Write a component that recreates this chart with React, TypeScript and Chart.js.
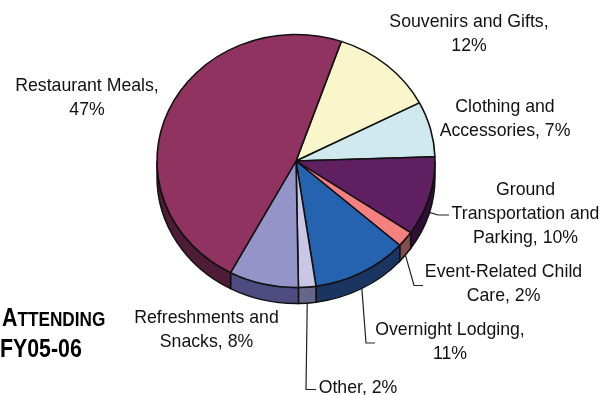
import React, { useEffect, useRef } from "react";
import { Chart, registerables } from "chart.js";

Chart.register(...registerables);

// Spending categories, clockwise from the Souvenirs slice.
const categories = [
  "Souvenirs and Gifts",
  "Clothing and Accessories",
  "Ground Transportation and Parking",
  "Event-Related Child Care",
  "Overnight Lodging",
  "Other",
  "Refreshments and Snacks",
  "Restaurant Meals",
];
const shares = [12, 7, 10, 2, 11, 2, 8, 47];
const topColors = ["#FAF6CC", "#CFE9EE", "#5F1F60", "#F58080", "#2563B0", "#C9C6E6", "#9594C8", "#903360"];
const wallColors = ["#7D7B66", "#687577", "#300F36", "#834D4B", "#1A3562", "#66668A", "#4D4B80", "#4F1C37"];
const titleLines = ["ATTENDING", "FY05-06"];

const labelLines = [
  ["Souvenirs and Gifts,", "12%"],
  ["Clothing and", "Accessories, 7%"],
  ["Ground", "Transportation and", "Parking, 10%"],
  ["Event-Related Child", "Care, 2%"],
  ["Overnight Lodging,", "11%"],
  ["Other, 2%"],
  ["Refreshments and", "Snacks, 8%"],
  ["Restaurant Meals,", "47%"],
];

// Centre x and first-line y of each label block.
const labelAnchors = [
  [469, 22],
  [505, 107],
  [525.5, 190.5],
  [503.5, 272],
  [450, 330],
  [358, 388.5],
  [206.5, 318],
  [87, 86],
];

// Elbow and end of the leader lines, by slice index.
const leaders: Record<number, number[][]> = {
  2: [[438, 215], [449, 215]],
  3: [[414, 285.5], [423, 285.5]],
  4: [[366, 343], [375, 343]],
  5: [[306, 389.5], [316, 389.5]],
};

const SQUASH = 126.5 / 139;
const DEPTH = 16;
const LABEL_FONT = "17.7px 'Liberation Sans', Arial, sans-serif";
const LINE_HEIGHT = 23.7;
const HEADING_FACE = "'Liberation Sans', Arial, sans-serif";
const HEADING_NARROW = 0.82;

const tiltedPie = {
  id: "tiltedPie",
  beforeDatasetDraw(chart: any) {
    const ctx = chart.ctx;
    const arcs = chart.getDatasetMeta(0).data;
    const { x: cx, y: cy, outerRadius: r } = arcs[0];
    const ry = r * SQUASH;

    // Side wall: only the part of each slice facing the viewer.
    arcs.forEach((arc: any, i: number) => {
      const twoPi = Math.PI * 2;
      let a = arc.startAngle % twoPi;
      if (a < -Math.PI / 2) a += twoPi;
      const sweep = arc.endAngle - arc.startAngle;
      const from = Math.max(a, 0);
      const to = Math.min(a + sweep, Math.PI);
      if (to <= from) return;
      ctx.save();
      ctx.beginPath();
      ctx.ellipse(cx, cy, r, ry, 0, from, to);
      ctx.ellipse(cx, cy + DEPTH, r, ry, 0, to, from, true);
      ctx.closePath();
      ctx.fillStyle = wallColors[i];
      ctx.fill();
      ctx.lineWidth = 1.5;
      ctx.strokeStyle = "#111";
      ctx.stroke();
      ctx.restore();
    });

    // Top face: flatten the circular arcs into an ellipse.
    ctx.save();
    ctx.translate(cx, cy);
    ctx.scale(1, SQUASH);
    ctx.translate(-cx, -cy);
  },
  afterDatasetDraw(chart: any) {
    chart.ctx.restore();
  },
  afterDatasetsDraw(chart: any) {
    const ctx = chart.ctx;
    const arcs = chart.getDatasetMeta(0).data;

    // Leader lines start on the outer wall at the middle of the slice.
    ctx.save();
    ctx.lineWidth = 1.2;
    ctx.strokeStyle = "#222";
    Object.keys(leaders).forEach((key) => {
      const i = Number(key);
      const arc = arcs[i];
      const mid = (arc.startAngle + arc.endAngle) / 2;
      const sx = arc.x + arc.outerRadius * Math.cos(mid);
      const sy = arc.y + arc.outerRadius * SQUASH * Math.sin(mid) + DEPTH;
      ctx.beginPath();
      ctx.moveTo(sx, sy);
      leaders[i].forEach(([x, y]) => ctx.lineTo(x, y));
      ctx.stroke();
    });

    // Category labels.
    ctx.font = LABEL_FONT;
    ctx.fillStyle = "#111";
    ctx.textAlign = "center";
    ctx.textBaseline = "middle";
    labelLines.forEach((lines, i) => {
      const [x, y] = labelAnchors[i];
      lines.forEach((line, n) => ctx.fillText(line, x, y + n * LINE_HEIGHT));
    });

    // Small-caps heading in the lower-left corner, set condensed.
    ctx.textAlign = "left";
    ctx.textBaseline = "alphabetic";
    ctx.fillStyle = "#000";
    ctx.save();
    ctx.scale(HEADING_NARROW, 1);
    const left = 2 / HEADING_NARROW;
    ctx.font = `bold 26px ${HEADING_FACE}`;
    ctx.fillText(titleLines[0][0], left, 326);
    const capWidth = ctx.measureText(titleLines[0][0]).width;
    ctx.font = `bold 21px ${HEADING_FACE}`;
    ctx.fillText(titleLines[0].slice(1), left + capWidth, 326);
    ctx.font = `bold 26px ${HEADING_FACE}`;
    ctx.fillText(titleLines[1], 0, 357);
    ctx.restore();
    ctx.restore();
  },
};

export default function App() {
  const canvasRef = useRef<HTMLCanvasElement>(null);

  useEffect(() => {
    const chart = new Chart(canvasRef.current!, {
      type: "pie",
      data: {
        labels: categories,
        datasets: [
          {
            data: shares,
            backgroundColor: topColors,
            borderColor: "#111",
            borderWidth: 1.6,
            clip: false,
          } as any,
        ],
      },
      options: {
        responsive: false,
        animation: false,
        rotation: 19,
        layout: { padding: { left: 156.2, right: 178.2, top: 21.2, bottom: 94.2 } },
        plugins: { legend: { display: false }, tooltip: { enabled: false }, title: { display: false } },
      },
      plugins: [tiltedPie],
    });
    return () => chart.destroy();
  }, []);

  return (
    <div style={{ position: "absolute", left: 0, top: 0, width: 614, height: 395, background: "#fff" }}>
      <canvas ref={canvasRef} width={614} height={395} style={{ display: "block" }} />
    </div>
  );
}
